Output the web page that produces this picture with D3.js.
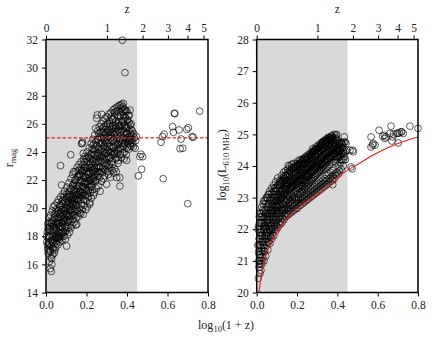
<!DOCTYPE html>
<html><head><meta charset="utf-8">
<script src="https://cdn.jsdelivr.net/npm/d3@7/dist/d3.min.js"></script>
<style>
body{margin:0;background:#fff;}
svg text{font-family:"Liberation Serif","DejaVu Serif",serif;fill:#222;}
</style></head>
<body><svg id="c" width="432" height="342"></svg>
<script>
// ---- data ----
const xTicks = [0.0, 0.2, 0.4, 0.6, 0.8];
const zTickLabels = [0, 1, 2, 3, 4, 5];
const magTicks = [14, 16, 18, 20, 22, 24, 26, 28, 30, 32];
const lumTicks = [20, 21, 22, 23, 24, 25, 26, 27, 28];
const shadeLimit = 0.45;
const magLimit = 25;

const magPoints = [
[0.004,17.6],[0.006,18.3],[0.008,17.1],[0.009,18.9],[0.011,16.8],[0.012,17.9],[0.013,19.3],[0.014,18.5],
[0.017,16.2],[0.018,17.4],[0.019,18.7],[0.021,15.7],[0.022,17.0],[0.023,19.5],[0.024,18.1],[0.025,16.5],[0.026,15.5],[0.027,17.7],
[0.029,16.0],[0.030,18.4],[0.031,19.8],[0.032,17.2],[0.033,16.7],[0.034,19.1],[0.035,18.0],[0.036,20.1],
[0.038,17.5],[0.039,18.8],[0.041,16.8],[0.042,19.6],[0.043,18.2],[0.044,20.2],[0.046,17.9],[0.047,19.0],
[0.048,17.2],[0.050,18.5],[0.051,19.9],[0.052,17.7],[0.054,19.3],[0.055,20.4],[0.056,18.1],[0.057,18.9],
[0.059,17.4],[0.060,19.6],[0.062,18.3],[0.063,20.6],[0.064,17.9],[0.065,19.1],[0.066,18.7],[0.067,20.1],
[0.069,17.6],[0.070,19.4],[0.071,18.5],[0.072,20.8],[0.074,18.0],[0.075,19.9],[0.076,19.0],[0.077,21.65],
[0.079,17.7],[0.080,20.3],[0.081,18.9],[0.083,19.5],[0.084,21.0],[0.085,18.3],[0.086,20.0],[0.087,19.2],
[0.089,18.0],[0.090,19.8],[0.092,21.2],[0.093,18.6],[0.094,20.5],[0.095,19.3],[0.096,17.8],[0.097,20.0],
[0.099,18.4],[0.100,20.7],[0.101,19.6],[0.102,17.3],[0.103,21.5],[0.105,19.0],[0.106,20.2],[0.107,18.1],
[0.109,19.4],[0.110,21.0],[0.111,18.6],[0.113,20.4],[0.114,21.8],[0.115,19.9],[0.116,18.3],[0.117,20.8],
[0.119,19.2],[0.120,21.4],[0.121,20.1],[0.122,23.8],[0.123,18.6],[0.124,22.1],[0.125,20.6],[0.127,19.7],
[0.129,18.8],[0.130,21.0],[0.131,22.4],[0.133,20.3],[0.134,19.5],[0.135,21.7],[0.136,20.8],[0.137,22.6],
[0.139,19.0],[0.140,20.5],[0.141,21.3],[0.143,22.0],[0.144,19.8],[0.145,22.6],[0.146,20.9],[0.147,18.8],
[0.149,19.3],[0.150,21.6],[0.151,20.2],[0.152,18.85],[0.154,22.9],[0.155,21.0],[0.156,19.8],[0.157,22.3],
[0.159,20.6],[0.160,19.4],[0.161,21.8],[0.163,23.1],[0.164,20.0],[0.165,22.4],[0.166,21.2],[0.167,19.7],
[0.169,20.9],[0.170,22.0],[0.171,19.6],[0.173,23.3],[0.174,21.5],[0.175,20.3],[0.176,22.7],[0.177,24.6],
[0.179,19.9],[0.180,21.1],[0.181,24.7],[0.183,22.3],[0.184,19.56],[0.185,23.5],[0.186,20.6],[0.187,21.8],
[0.189,20.2],[0.190,22.9],[0.191,21.4],[0.193,23.7],[0.194,20.9],[0.195,22.2],[0.196,21.9],[0.197,19.9],
[0.199,20.5],[0.200,22.6],[0.201,21.2],[0.203,24.0],[0.204,20.1],[0.205,23.3],[0.206,21.7],[0.207,22.1],
[0.209,20.8],[0.210,22.4],[0.211,23.6],[0.213,21.5],[0.214,24.3],[0.215,20.4],[0.216,22.9],[0.217,20.3],
[0.219,21.1],[0.220,23.2],[0.221,22.0],[0.223,24.6],[0.224,20.7],[0.225,23.9],[0.226,21.6],[0.227,22.7],
[0.229,21.3],[0.230,22.5],[0.231,24.9],[0.233,23.5],[0.234,20.9],[0.235,22.1],[0.236,24.2],[0.237,23.0],
[0.239,21.1],[0.240,22.8],[0.241,25.2],[0.243,23.8],[0.244,21.9],[0.245,25.68],[0.246,24.4],[0.247,22.4],
[0.249,21.4],[0.250,26.4],[0.251,23.3],[0.253,26.63],[0.254,22.6],[0.255,24.9],[0.256,25.5],[0.257,23.9],
[0.259,21.6],[0.260,24.2],[0.261,22.9],[0.263,25.8],[0.264,23.6],[0.265,22.2],[0.266,25.1],[0.267,21.2],
[0.269,22.5],[0.270,24.6],[0.271,23.4],[0.273,26.0],[0.274,21.9],[0.275,26.68],[0.276,24.0],[0.277,25.4],
[0.279,22.8],[0.280,25.7],[0.281,23.7],[0.283,26.2],[0.284,22.1],[0.285,24.4],[0.286,25.0],[0.287,23.2],
[0.289,22.3],[0.290,24.8],[0.291,26.4],[0.293,23.9],[0.294,25.3],[0.295,22.7],[0.296,24.2],[0.297,25.9],
[0.299,21.7],[0.300,23.5],[0.301,26.5],[0.303,24.6],[0.304,22.6],[0.305,25.6],[0.306,23.0],[0.307,24.1],
[0.309,22.4],[0.310,25.1],[0.311,26.7],[0.313,23.6],[0.314,24.4],[0.315,22.9],[0.316,26.0],[0.317,25.4],
[0.319,22.2],[0.320,24.0],[0.321,26.8],[0.323,25.6],[0.324,23.3],[0.325,24.8],[0.326,22.7],[0.327,26.3],
[0.329,23.1],[0.330,25.9],[0.331,27.0],[0.333,24.3],[0.334,22.5],[0.335,25.3],[0.336,23.8],[0.337,26.5],
[0.339,22.8],[0.340,24.7],[0.341,27.1],[0.343,25.7],[0.344,23.5],[0.345,26.2],[0.346,24.1],[0.347,22.6],
[0.349,22.17],[0.350,25.0],[0.351,27.2],[0.353,23.9],[0.354,26.6],[0.355,24.5],[0.356,23.2],[0.357,25.8],
[0.359,23.4],[0.360,26.1],[0.361,27.3],[0.363,24.8],[0.364,22.17],[0.365,21.57],[0.366,25.4],[0.367,27.34],[0.368,23.8],
[0.369,24.2],[0.370,26.8],[0.371,25.2],[0.373,23.6],[0.374,27.4],[0.375,24.6],[0.376,26.2],[0.377,31.95],
[0.379,23.9],[0.380,25.6],[0.381,27.2],[0.382,27.46],[0.383,24.4],[0.384,26.6],[0.385,25.0],[0.386,23.5],
[0.388,24.0],[0.389,25.9],[0.390,29.64],[0.391,27.0],[0.392,24.7],[0.393,26.4],[0.394,25.3],[0.396,23.8],
[0.398,23.4],[0.399,25.7],[0.400,26.9],[0.401,24.3],[0.403,26.2],[0.404,25.0],[0.405,24.6],[0.407,26.6],
[0.409,24.2],[0.410,25.5],[0.411,26.6],[0.413,24.8],[0.415,26.98],[0.416,25.9],[0.417,24.5],
[0.419,24.4],[0.420,25.6],[0.421,26.0],[0.423,25.2],[0.424,24.9],
[0.429,24.6],[0.431,24.37],[0.433,25.3],[0.436,25.0],
[0.440,24.26],[0.443,24.8],[0.446,25.1],
[0.072,23.03],[0.184,23.9],[0.176,24.6],
[0.456,22.3],[0.464,23.66],[0.469,23.84],[0.472,22.77],[0.477,23.66],
[0.568,24.69],[0.576,25.09],[0.583,25.26],[0.579,22.1],[0.625,25.8],[0.629,25.4],[0.634,26.75],[0.636,26.72],
[0.657,25.56],[0.662,24.23],[0.675,24.26],[0.667,24.92],[0.695,25.6],[0.703,25.72],[0.721,25.09],[0.726,25.04],
[0.759,26.9],[0.700,20.32]
];

const magPointsCore = [
[0.003,18.0],[0.007,17.4],[0.010,18.6],[0.015,17.5],[0.016,19.0],[0.016,18.0],
[0.020,16.9],[0.022,18.4],[0.024,17.3],[0.026,19.0],[0.028,16.4],[0.028,18.9],[0.031,17.6],[0.033,18.7],
[0.036,17.1],[0.037,18.5],[0.040,17.8],[0.040,19.3],[0.043,17.0],[0.045,18.6],[0.047,19.6],[0.049,18.0],
[0.051,17.5],[0.053,18.8],[0.055,19.0],[0.057,17.9],[0.058,19.8],[0.061,18.0],[0.062,19.3],[0.064,18.9],
[0.066,17.8],[0.068,19.6],[0.068,18.2],[0.070,20.2],[0.073,18.7],[0.073,19.7],[0.075,18.3],[0.078,19.4],[0.078,20.5],
[0.080,18.2],[0.082,19.9],[0.082,18.6],[0.085,20.6],[0.086,19.0],[0.088,19.6],[0.088,20.8],[0.091,19.1],[0.092,18.3],
[0.094,19.8],[0.097,18.7],[0.098,20.4],[0.100,19.2],[0.102,21.0],[0.104,18.7],[0.104,20.0],[0.107,19.5],[0.108,20.8],
[0.110,19.9],[0.111,20.5],[0.112,19.1],[0.115,21.2],[0.117,19.5],[0.118,20.3],[0.120,19.8],[0.122,20.9],[0.124,19.4],
[0.126,21.3],[0.127,20.3],[0.129,19.9],[0.130,20.6],[0.132,21.6],[0.133,19.2],[0.135,20.4],[0.137,21.2],[0.138,20.0],
[0.140,21.8],[0.142,20.7],[0.142,19.5],[0.145,21.1],[0.147,20.2],[0.148,22.0],[0.150,20.7],[0.152,21.4],[0.153,19.9],
[0.155,20.6],[0.157,21.6],[0.158,22.2],[0.160,20.5],[0.162,21.0],[0.162,22.7],[0.165,21.6],[0.167,20.8],[0.168,22.3],
[0.170,21.2],[0.172,22.4],[0.172,20.6],[0.174,22.9],[0.177,21.9],[0.178,21.1],[0.180,22.6],[0.182,20.9],[0.183,23.1],
[0.185,21.5],[0.187,22.7],[0.188,21.0],[0.190,22.2],[0.192,23.3],[0.193,21.7],[0.195,22.9],[0.198,21.3],[0.198,23.5],
[0.200,21.8],[0.202,22.9],[0.203,21.0],[0.205,22.4],[0.207,23.7],[0.208,21.9],[0.210,21.3],[0.212,22.6],[0.213,23.1],
[0.215,22.0],[0.217,23.5],[0.218,21.7],[0.220,22.5],[0.222,23.8],[0.223,21.5],[0.225,22.9],[0.227,24.2],[0.228,22.2],
[0.230,23.3],[0.232,21.9],[0.233,24.5],[0.235,22.7],[0.237,23.8],[0.238,22.2],[0.240,24.1],[0.242,22.6],[0.243,23.2],
[0.245,24.7],[0.247,23.5],[0.248,22.0],[0.250,22.9],[0.252,24.4],[0.253,23.7],[0.255,22.3],[0.257,24.9],[0.258,23.3],
[0.260,25.3],[0.262,23.9],[0.263,22.6],[0.265,24.6],[0.267,23.3],[0.268,25.4],[0.270,22.9],[0.272,24.2],[0.273,23.7],
[0.275,25.0],[0.277,22.6],[0.278,24.7],[0.280,23.4],[0.282,25.4],[0.283,24.0],[0.285,22.8],[0.287,25.8],[0.288,24.5],
[0.290,23.5],[0.292,25.2],[0.293,23.0],[0.295,24.7],[0.297,25.6],[0.298,23.9],[0.300,25.0],[0.302,23.2],[0.303,26.0],
[0.305,24.4],[0.307,25.4],[0.308,23.7],[0.310,24.7],[0.312,26.2],[0.313,23.1],[0.315,25.8],[0.317,24.0],[0.318,25.2],
[0.320,23.6],[0.322,25.0],[0.323,26.5],[0.325,24.3],[0.327,25.4],[0.328,23.8],[0.330,26.3],[0.332,24.8],[0.333,25.7],
[0.335,24.0],[0.337,25.2],[0.338,26.8],[0.340,23.9],[0.342,25.9],[0.343,24.5],[0.345,25.4],[0.347,26.9],[0.348,24.8],
[0.350,23.6],[0.352,26.0],[0.353,25.2],[0.355,26.9],[0.357,24.2],[0.358,25.5],[0.360,24.6],[0.362,26.5],[0.363,25.9],
[0.365,24.3],[0.367,25.8],[0.368,26.6],[0.370,24.9],[0.372,25.5],[0.373,27.1],[0.375,25.9],[0.377,24.4],[0.378,26.9],
[0.380,24.8],[0.382,26.2],[0.384,25.4],[0.386,27.0],[0.388,24.6],[0.390,26.5],[0.392,25.7],[0.395,26.9],[0.397,24.9],
[0.400,25.3],[0.402,26.3],[0.405,25.8],[0.408,24.8],[0.410,26.1],[0.412,25.1],[0.418,25.3],[0.422,24.7],[0.426,25.5]
];

const lumPoints = [
[0.008,20.45],[0.009,21.3],[0.010,22.1],[0.011,20.8],[0.012,21.7],[0.013,22.4],[0.014,21.0],[0.015,21.9],[0.016,20.6],[0.017,22.2],
[0.019,21.2],[0.020,22.5],[0.021,20.7],[0.022,21.6],[0.023,22.0],[0.024,21.4],[0.025,22.7],[0.026,20.9],
[0.029,21.8],[0.030,21.1],[0.031,22.3],[0.032,22.8],[0.033,21.5],[0.034,21.95],[0.035,22.55],[0.036,21.0],
[0.039,21.3],[0.040,22.2],[0.041,22.9],[0.043,21.7],[0.044,22.5],[0.045,21.15],[0.046,22.05],[0.047,23.0],
[0.049,21.5],[0.050,22.3],[0.051,22.7],[0.053,21.9],[0.054,22.99],[0.055,21.35],[0.056,22.5],[0.057,23.1],
[0.059,21.6],[0.060,22.2],[0.061,22.8],[0.063,22.0],[0.064,23.2],[0.065,21.55],[0.066,22.6],[0.067,22.95],
[0.069,21.75],[0.070,22.4],[0.071,23.0],[0.073,22.1],[0.074,23.3],[0.075,21.7],[0.076,22.7],[0.077,22.55],
[0.079,21.85],[0.080,22.5],[0.081,23.1],[0.083,22.3],[0.084,23.4],[0.085,21.8],[0.086,22.85],[0.087,23.3],
[0.089,22.0],[0.090,22.6],[0.091,23.2],[0.093,22.4],[0.094,23.5],[0.095,21.95],[0.096,22.9],[0.097,23.05],
[0.099,22.1],[0.100,22.7],[0.101,23.3],[0.103,22.5],[0.104,23.62],[0.105,22.05],[0.106,23.0],[0.107,22.85],
[0.109,22.2],[0.110,22.8],[0.111,23.4],[0.113,22.6],[0.114,23.55],[0.115,22.15],[0.116,23.1],[0.117,23.0],
[0.119,22.25],[0.120,22.95],[0.121,23.45],[0.123,22.7],[0.124,23.7],[0.125,22.2],[0.126,23.2],[0.127,23.05],
[0.129,22.35],[0.130,23.0],[0.131,23.55],[0.133,22.8],[0.134,23.8],[0.135,22.3],[0.136,23.3],[0.137,23.15],
[0.139,22.45],[0.140,23.1],[0.141,23.6],[0.143,22.85],[0.144,23.85],[0.145,22.4],[0.146,23.35],[0.147,23.25],
[0.149,22.5],[0.150,23.2],[0.151,23.7],[0.153,22.95],[0.154,23.9],[0.155,22.45],[0.157,24.02],[0.156,23.4],
[0.159,22.6],[0.160,23.25],[0.161,23.75],[0.163,23.0],[0.164,24.0],[0.165,22.5],[0.166,23.5],[0.167,23.35],
[0.169,22.65],[0.170,23.3],[0.171,23.8],[0.173,23.1],[0.174,24.05],[0.175,22.55],[0.176,23.55],[0.177,23.4],
[0.179,22.7],[0.180,23.35],[0.182,24.08],[0.183,23.15],[0.184,23.85],[0.185,22.6],[0.186,23.6],[0.187,23.45],
[0.189,22.75],[0.190,23.4],[0.191,23.9],[0.193,23.2],[0.195,24.08],[0.194,22.65],[0.196,23.65],[0.197,23.5],
[0.199,22.8],[0.200,23.45],[0.201,23.95],[0.203,22.67],[0.204,24.15],[0.205,23.25],[0.206,23.7],[0.207,23.55],
[0.209,22.85],[0.210,23.5],[0.211,24.0],[0.213,23.3],[0.214,24.2],[0.215,22.75],[0.216,23.75],[0.217,23.6],
[0.219,22.9],[0.220,23.55],[0.221,24.05],[0.223,23.35],[0.224,24.2],[0.225,22.8],[0.226,23.8],[0.227,23.65],
[0.229,22.95],[0.230,23.6],[0.231,24.1],[0.233,23.4],[0.234,24.25],[0.235,22.85],[0.236,24.24],[0.237,23.7],
[0.239,23.0],[0.240,23.65],[0.241,24.1],[0.243,23.45],[0.244,24.3],[0.245,22.9],[0.246,23.9],[0.247,23.75],
[0.249,23.05],[0.250,23.7],[0.251,24.2],[0.253,23.5],[0.254,24.35],[0.255,22.95],[0.256,23.95],[0.257,23.8],
[0.259,23.1],[0.260,23.75],[0.261,24.25],[0.263,23.55],[0.264,24.4],[0.265,23.0],[0.266,24.0],[0.267,23.85],
[0.269,23.15],[0.270,23.8],[0.271,24.3],[0.273,23.6],[0.274,24.45],[0.275,23.05],[0.276,24.05],[0.277,23.9],
[0.278,24.55],[0.279,23.2],[0.280,23.85],[0.281,24.45],[0.283,23.65],[0.284,24.35],[0.285,23.1],[0.286,24.1],[0.287,23.95],
[0.289,23.25],[0.290,23.9],[0.291,24.4],[0.293,23.7],[0.294,24.6],[0.295,23.15],[0.296,24.15],[0.297,24.0],
[0.298,24.5],[0.299,23.3],[0.300,23.95],[0.301,24.45],[0.303,23.75],[0.304,24.65],[0.305,23.2],[0.306,24.2],[0.307,24.05],
[0.309,23.35],[0.310,24.0],[0.311,24.5],[0.313,23.8],[0.314,24.7],[0.315,23.25],[0.316,24.25],[0.317,24.1],
[0.319,23.4],[0.320,24.05],[0.321,24.55],[0.323,23.85],[0.324,24.75],[0.325,23.3],[0.326,24.3],[0.327,24.76],
[0.329,23.45],[0.330,24.1],[0.331,24.6],[0.333,23.9],[0.334,24.8],[0.335,23.35],[0.336,24.35],[0.337,24.2],
[0.339,23.5],[0.340,24.15],[0.341,24.65],[0.343,23.95],[0.344,24.85],[0.345,23.4],[0.346,24.4],[0.347,24.25],
[0.349,23.55],[0.350,24.2],[0.351,24.7],[0.353,24.0],[0.354,24.9],[0.355,23.45],[0.356,24.45],[0.357,24.3],
[0.359,23.6],[0.360,24.25],[0.361,24.75],[0.363,24.05],[0.364,24.82],[0.365,23.5],[0.366,24.5],[0.367,24.35],
[0.369,23.65],[0.370,24.3],[0.371,24.8],[0.373,24.1],[0.374,24.95],[0.375,23.55],[0.376,24.55],[0.377,23.41],
[0.379,23.7],[0.380,24.35],[0.381,24.85],[0.383,24.15],[0.384,25.0],[0.385,23.6],[0.386,24.6],[0.387,24.4],
[0.389,23.75],[0.390,24.4],[0.391,24.9],[0.393,24.97],[0.394,24.2],[0.395,23.7],[0.396,24.65],[0.397,25.0],
[0.399,23.8],[0.400,24.45],[0.401,24.8],[0.403,24.25],[0.404,24.6],[0.405,23.75],[0.407,24.35],
[0.409,23.85],[0.410,24.5],[0.411,24.75],[0.413,24.3],[0.415,24.1],[0.417,24.6],
[0.419,23.9],[0.420,24.4],[0.421,24.7],[0.423,24.2],[0.425,24.55],
[0.429,24.0],[0.430,24.45],[0.433,24.75],[0.435,24.92],[0.436,24.3],
[0.438,24.76],[0.440,24.2],[0.443,24.71],[0.446,24.5],
[0.463,24.5],[0.468,23.97],[0.473,23.91],[0.476,24.5],[0.479,24.45],
[0.567,24.92],[0.567,24.6],[0.575,24.66],[0.578,24.71],[0.587,24.66],[0.607,25.13],[0.625,24.94],[0.633,24.97],
[0.636,24.87],[0.641,24.92],[0.661,25.03],[0.666,25.26],[0.671,24.79],[0.675,24.92],[0.678,25.01],[0.694,25.03],
[0.700,25.03],[0.702,24.73],[0.707,25.05],[0.716,25.08],[0.719,25.08],[0.727,25.03],[0.760,25.26],[0.800,25.19]
];

const lumPointsCore = [
[0.006,21.5],[0.007,22.0],[0.010,21.0],[0.011,21.5],[0.013,20.9],[0.014,22.2],[0.016,21.3],[0.018,21.8],[0.018,20.9],
[0.020,21.9],[0.021,21.1],[0.023,22.4],[0.024,21.8],[0.026,21.3],[0.027,22.2],[0.028,21.6],[0.030,22.6],[0.032,21.3],
[0.034,22.1],[0.036,21.6],[0.037,22.4],[0.038,21.3],[0.040,21.8],[0.042,22.6],[0.043,22.1],[0.045,21.6],[0.047,22.4],
[0.048,22.0],[0.050,21.7],[0.052,22.5],[0.053,22.2],[0.055,21.9],[0.057,22.8],[0.058,22.1],[0.060,21.8],[0.062,22.5],
[0.063,22.3],[0.065,22.0],[0.067,22.7],[0.068,22.2],[0.070,21.95],[0.072,22.9],[0.073,22.5],[0.075,22.2],[0.078,22.8],
[0.079,22.3],[0.080,22.05],[0.082,22.7],[0.083,22.9],[0.085,22.4],[0.087,22.2],[0.088,23.0],[0.090,22.6],[0.092,22.9],
[0.094,22.3],[0.095,22.75],[0.097,23.2],[0.098,22.5],[0.100,22.9],[0.102,22.3],[0.103,23.1],[0.105,22.7],[0.107,23.4],
[0.108,22.5],[0.110,23.05],[0.112,22.75],[0.113,23.3],[0.115,22.5],[0.117,22.9],[0.118,23.5],[0.120,23.2],[0.122,22.6],
[0.123,23.0],[0.125,23.5],[0.127,22.6],[0.128,23.25],[0.130,22.8],[0.132,23.65],[0.133,23.1],[0.135,22.65],[0.137,23.45],
[0.138,22.95],[0.140,23.45],[0.142,22.7],[0.143,23.25],[0.145,23.7],[0.147,22.9],[0.148,23.55],[0.150,22.75],[0.152,23.35],
[0.153,23.1],[0.155,23.75],[0.157,22.8],[0.158,23.45],[0.160,23.05],[0.162,23.65],[0.163,22.85],[0.165,23.3],[0.167,23.85],
[0.168,23.15],[0.170,22.9],[0.172,23.65],[0.173,23.35],[0.175,23.9],[0.177,22.95],[0.178,23.5],[0.180,23.05],[0.182,23.75],
[0.183,23.4],[0.185,23.95],[0.187,23.0],[0.188,23.6],[0.190,23.2],[0.192,23.8],[0.193,23.45],[0.195,22.95],[0.197,23.95],
[0.198,23.3],[0.200,23.75],[0.202,23.1],[0.203,24.0],[0.205,23.5],[0.207,23.0],[0.208,23.85],[0.210,23.3],[0.212,24.05],
[0.213,23.55],[0.215,23.15],[0.217,23.9],[0.218,23.4],[0.220,24.1],[0.222,23.2],[0.223,23.7],[0.225,23.95],[0.227,23.35],
[0.228,24.15],[0.230,23.25],[0.232,23.85],[0.233,23.55],[0.235,24.05],[0.237,23.3],[0.238,23.95],[0.240,23.45],[0.242,24.2],
[0.243,23.7],[0.245,23.35],[0.247,24.1],[0.248,23.55],[0.250,24.0],[0.252,23.4],[0.253,24.25],[0.255,23.65],[0.257,24.1],
[0.258,23.45],[0.260,24.05],[0.262,23.7],[0.263,24.3],[0.265,23.5],[0.267,24.15],[0.268,23.8],[0.270,24.35],[0.272,23.55],
[0.273,24.2],[0.275,23.85],[0.277,24.4],[0.278,23.6],[0.280,24.25],[0.282,23.9],[0.283,24.5],[0.285,23.65],[0.287,24.3],
[0.288,23.95],[0.290,24.5],[0.292,23.7],[0.293,24.35],[0.295,24.0],[0.297,24.55],[0.298,23.75],[0.300,24.4],[0.302,24.1],
[0.303,24.55],[0.305,23.8],[0.307,24.45],[0.308,24.15],[0.310,24.6],[0.312,23.85],[0.313,24.5],[0.315,24.2],[0.317,24.65],
[0.318,23.9],[0.320,24.55],[0.322,24.25],[0.323,24.7],[0.325,23.95],[0.327,24.6],[0.328,24.3],[0.330,24.75],[0.332,24.0],
[0.333,24.65],[0.335,24.35],[0.337,24.8],[0.338,24.05],[0.340,24.7],[0.342,24.4],[0.343,24.8],[0.345,24.1],[0.347,24.75],
[0.348,24.45],[0.350,24.85],[0.352,24.15],[0.353,24.8],[0.355,24.5],[0.357,24.9],[0.358,24.2],[0.360,24.85],[0.362,24.55],
[0.363,24.9],[0.365,24.25],[0.367,24.85],[0.368,24.6],[0.370,24.95],[0.372,24.3],[0.373,24.85],[0.375,24.65],[0.378,24.9],
[0.380,24.4],[0.382,24.7],[0.385,24.3],[0.387,24.75],[0.390,24.55],[0.392,24.3],[0.395,24.85],[0.398,24.5],[0.400,24.3],
[0.403,24.7],[0.406,24.45],[0.409,24.65],[0.412,24.35],[0.416,24.5],[0.420,24.75],[0.424,24.4],[0.428,24.6],[0.432,24.4]
];

const lumPointsMid = [
[0.012,21.2],[0.015,22.5],[0.019,21.5],[0.022,22.2],[0.025,21.0],[0.028,22.4],[0.031,21.7],[0.035,22.9],[0.038,22.0],[0.041,21.4],
[0.044,22.8],[0.048,21.8],[0.051,23.0],[0.054,22.3],[0.058,21.6],[0.061,23.1],[0.064,22.4],[0.068,21.8],[0.071,22.6],[0.074,23.15],
[0.077,22.0],[0.081,22.6],[0.084,23.2],[0.088,22.1],[0.091,22.75],[0.094,23.3],[0.098,22.2],[0.101,22.6],[0.104,23.4],[0.108,22.35],
[0.111,22.95],[0.114,23.45],[0.118,22.4],[0.121,23.1],[0.124,23.55],[0.128,22.5],[0.131,23.2],[0.134,23.6],[0.138,22.6],[0.141,23.3],
[0.144,23.7],[0.148,22.65],[0.151,23.45],[0.154,23.8],[0.158,22.7],[0.161,23.4],[0.164,23.85],[0.168,22.75],[0.171,23.5],[0.174,23.95],
[0.178,22.8],[0.181,23.55],[0.184,23.95],[0.188,22.85],[0.191,23.6],[0.194,24.0],[0.198,22.9],[0.201,23.65],[0.204,24.05],[0.208,22.95],
[0.211,23.7],[0.214,24.1],[0.218,23.0],[0.221,23.75],[0.224,24.15],[0.228,23.05],[0.231,23.8],[0.234,24.2],[0.238,23.1],[0.241,23.85],
[0.244,24.2],[0.248,23.15],[0.251,23.9],[0.254,24.3],[0.258,23.2],[0.261,23.95],[0.264,24.35],[0.268,23.25],[0.271,24.0],[0.274,24.35],
[0.278,23.3],[0.281,24.05],[0.284,24.45],[0.288,23.35],[0.291,24.1],[0.294,24.5],[0.298,23.4],[0.301,24.15],[0.304,24.55],[0.308,23.45],
[0.311,24.2],[0.314,24.6],[0.318,23.5],[0.321,24.25],[0.324,24.65],[0.328,23.55],[0.331,24.3],[0.334,24.7],[0.338,23.6],[0.341,24.35],
[0.344,24.75],[0.348,23.7],[0.351,24.4],[0.354,24.8],[0.358,23.75],[0.361,24.45],[0.364,24.85],[0.368,23.8],[0.371,24.5],[0.374,24.9],
[0.378,23.85],[0.381,24.55],[0.388,24.6],[0.392,24.1],[0.402,24.55],[0.408,24.0],[0.414,24.7],[0.418,24.2],[0.426,24.7],[0.431,24.2],[0.441,24.45]
];

const limitLogZ = [0.012,0.016,0.021,0.030,0.038,0.054,0.079,0.100,0.120,0.170,0.228,0.294,0.360,0.413,0.435,0.500,0.578,0.650,0.720,0.800];
const limitLum  = [20.0,20.25,20.45,20.78,20.98,21.35,21.67,21.90,22.09,22.46,22.78,23.07,23.38,23.68,23.80,24.05,24.35,24.58,24.76,24.92];

// ---- drawing ----
const svg = d3.select("#c");
const plotTop = 39.5, plotBottom = 292.5;
const panels = [
  {x0: 46, x1: 208, dom: [14, 32], ticks: magTicks, pts: magPoints.concat(magPointsCore), id: "L"},
  {x0: 256.7, x1: 418, dom: [20, 28], ticks: lumTicks, pts: lumPoints.concat(lumPointsCore, lumPointsMid), id: "R"}
];

panels.forEach(p => {
  const x = d3.scaleLinear().domain([0, 0.8]).range([p.x0, p.x1]);
  const y = d3.scaleLinear().domain(p.dom).range([plotBottom, plotTop]);
  const g = svg.append("g");
  g.append("clipPath").attr("id", "clip" + p.id).append("rect")
    .attr("x", p.x0).attr("y", plotTop).attr("width", p.x1 - p.x0).attr("height", plotBottom - plotTop);
  g.append("rect").attr("x", x(0)).attr("y", plotTop).attr("width", x(shadeLimit) - x(0))
    .attr("height", plotBottom - plotTop).attr("fill", "#d9d9d9");
  g.append("g").selectAll("circle").data(p.pts).join("circle")
    .attr("cx", d => x(d[0])).attr("cy", d => y(d[1])).attr("r", 3.4)
    .attr("fill", "none").attr("stroke", "#000").attr("stroke-opacity", 0.68).attr("stroke-width", 0.95);
  if (p.id === "L") {
    g.append("line").attr("x1", x(0)).attr("x2", x(0.8)).attr("y1", y(magLimit)).attr("y2", y(magLimit))
      .attr("stroke", "#ee1c1c").attr("stroke-width", 1.1).attr("stroke-dasharray", "3.5,2");
  } else {
    const line = d3.line().x((d, i) => x(limitLogZ[i])).y((d, i) => y(limitLum[i])).curve(d3.curveMonotoneX);
    g.append("path").attr("d", line(limitLum)).attr("clip-path", "url(#clipR)")
      .attr("fill", "none").attr("stroke", "#ee1c1c").attr("stroke-width", 1.1);
  }
  const bx = g.append("g").attr("transform", `translate(0,${plotBottom})`)
    .call(d3.axisBottom(x).tickValues(xTicks).tickFormat(d3.format(".1f")).tickSizeOuter(0).tickSizeInner(4).tickPadding(4));
  const lx = g.append("g").attr("transform", `translate(${p.x0},0)`)
    .call(d3.axisLeft(y).tickValues(p.ticks).tickFormat(d3.format("d")).tickSizeOuter(0).tickSizeInner(4).tickPadding(4));
  const zx = g.append("g").attr("transform", `translate(0,${plotTop})`)
    .call(d3.axisTop(x).tickValues(zTickLabels.map(z => Math.log10(1 + z))).tickFormat((d, i) => zTickLabels[i]).tickSizeOuter(0).tickSizeInner(4).tickPadding(4));
  [bx, lx, zx].forEach(a => {
    a.select(".domain").remove();
    a.selectAll("line").attr("stroke", "#000").attr("stroke-width", 1);
    a.selectAll("text").attr("font-size", "11.5px").attr("font-family", "Liberation Serif, DejaVu Serif, serif").attr("fill", "#222");
  });
  g.append("rect").attr("x", p.x0).attr("y", plotTop).attr("width", p.x1 - p.x0).attr("height", plotBottom - plotTop)
    .attr("fill", "none").attr("stroke", "#000").attr("stroke-width", 1.5);
  g.append("text").attr("x", (p.x0 + p.x1) / 2).attr("y", 13).attr("text-anchor", "middle")
    .attr("font-size", "11.5px").text("z");
});

const yl = svg.append("text").attr("transform", "translate(13,158) rotate(-90)").attr("text-anchor", "middle").attr("font-size", "12px");
yl.append("tspan").text("r");
yl.append("tspan").attr("font-size", "8.5px").attr("dy", 3).text("mag");

const yr = svg.append("text").attr("transform", "translate(226,165) rotate(-90)").attr("text-anchor", "middle").attr("font-size", "12px");
yr.append("tspan").text("log");
yr.append("tspan").attr("font-size", "8.5px").attr("dy", 3).text("10");
yr.append("tspan").attr("dy", -3).text("(L");
yr.append("tspan").attr("font-size", "8.5px").attr("dy", 3).text("610 MHz");
yr.append("tspan").attr("dy", -3).text(")");

const xl = svg.append("text").attr("x", 226).attr("y", 329).attr("text-anchor", "middle").attr("font-size", "12px");
xl.append("tspan").text("log");
xl.append("tspan").attr("font-size", "8.5px").attr("dy", 3).text("10");
xl.append("tspan").attr("dy", -3).text("(1 + z)");
</script></body></html>
